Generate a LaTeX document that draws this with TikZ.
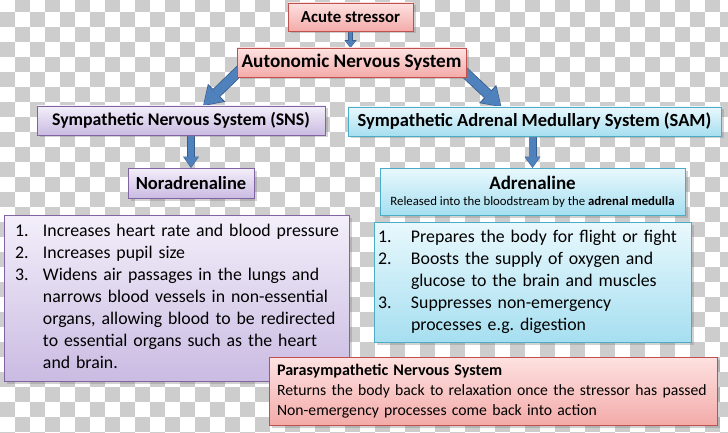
\documentclass[tikz,border=0pt]{standalone}
\usepackage{fontspec}
\setmainfont{Carlito}
\usetikzlibrary{arrows.meta, shadows}

\definecolor{checkgray}{RGB}{205,205,205}
\definecolor{arrowfill}{HTML}{4F81BD}
\definecolor{arrowedge}{HTML}{385D8A}
\definecolor{pinkedge}{HTML}{C0504D}
\definecolor{pinktop}{HTML}{FDE2E1}
\definecolor{pinkbottom}{HTML}{F3ABA9}
\definecolor{lilacedge}{HTML}{8064A2}
\definecolor{lilactop}{HTML}{F3EFFA}
\definecolor{lilacbottom}{HTML}{CABBE2}
\definecolor{cyanedge}{HTML}{4BACC6}
\definecolor{cyantop}{HTML}{E9F8FD}
\definecolor{cyanbottom}{HTML}{A6DFF0}

\pgfdeclarelayer{board}
\pgfdeclarelayer{links}
\pgfsetlayers{board,links,main}

\begin{document}
\begin{tikzpicture}[
            x = 1pt, y = -1pt, % one unit per pixel, y going down
            every node/.style = {outer sep = 0pt},
            title/.style = {font = \fontsize{#1}{20}\selectfont\bfseries},
            title/.default = 18,
            listtext/.style = {font = \fontsize{17.8}{22}\selectfont, align = left},
            % block arrows: outline drawn first, filled shaft on top
            bigarrow/.style = {draw = arrowfill, line width = 9pt,
                -{Triangle[length = 17pt, width = 22pt, line width = 0pt]}, shorten > = 1pt,
                preaction = {draw = arrowedge, line width = 10.6pt, shorten > = 0pt,
                -{Triangle[length = 19pt, width = 25pt, line width = 0pt]}}},
            midarrow/.style = {draw = arrowfill, line width = 6.6pt,
                -{Triangle[length = 10pt, width = 14pt, line width = 0pt]}, shorten > = 0.8pt,
                preaction = {draw = arrowedge, line width = 8pt, shorten > = 0pt,
                -{Triangle[length = 11.4pt, width = 16pt, line width = 0pt]}}},
            smallarrow/.style = {draw = arrowfill, line width = 3.6pt,
                -{Triangle[length = 6.5pt, width = 10pt, line width = 0pt]}, shorten > = 0.7pt,
                preaction = {draw = arrowedge, line width = 5pt, shorten > = 0pt,
                -{Triangle[length = 7.8pt, width = 12pt, line width = 0pt]}}}
        ]

        \tikzstyle{box}=[
            draw,
            line width = 0.8pt,
            inner sep = 0pt,
            drop shadow = {shadow xshift = 2.5pt, shadow yshift = -2.5pt, opacity = 0.35}
        ]
        \tikzstyle{pinkbox}=[box, draw = pinkedge, top color = pinktop, bottom color = pinkbottom]
        \tikzstyle{lilacbox}=[box, draw = lilacedge, top color = lilactop, bottom color = lilacbottom]
        \tikzstyle{cyanbox}=[box, draw = cyanedge, top color = cyantop, bottom color = cyanbottom]

        \useasboundingbox (0,0) rectangle (728,433);

        % transparent-background checkerboard
        \begin{pgfonlayer}{board}
            \clip (0,0) rectangle (728,433);
            \fill[white] (0,0) rectangle (728,433);
            \foreach \col in {0,...,48}
                \foreach \row in {0,...,29} {
                    \pgfmathtruncatemacro{\odd}{mod(\col+\row,2)}
                    \ifnum\odd=1
                        \fill[checkgray] (15*\col,15*\row-3) rectangle ++(15,15);
                    \fi
                }
        \end{pgfonlayer}

        \node[pinkbox, title = 16.8, minimum width = 125pt, minimum height = 28pt] (acute) at (350.5,17) {Acute stressor};
        \node[pinkbox, title = 19.2, minimum width = 229pt, minimum height = 29pt] (ans) at (351.5,62.5) {Autonomic Nervous System};
        \node[lilacbox, title = 17.8, minimum width = 288pt, minimum height = 29pt] (sns) at (181,120.5) {Sympathetic Nervous System (SNS)};
        \node[cyanbox, title = 18.5, minimum width = 373pt, minimum height = 29pt] (sam) at (534.5,121.5) {Sympathetic Adrenal Medullary System (SAM)};
        \node[lilacbox, title = 18.5, minimum width = 126pt, minimum height = 30pt] (noradr) at (191,183) {Noradrenaline};
        \node[cyanbox, minimum width = 305pt, minimum height = 47pt, align = center,
            font = \fontsize{12.8}{14}\selectfont] (adr) at (532.5,191.5)
            {{\fontsize{19}{20}\selectfont\bfseries Adrenaline}\\[2pt]
             Released into the bloodstream by the \textbf{adrenal medulla}};

        \node[lilacbox, listtext, text width = 323pt, inner xsep = 11pt, minimum height = 166pt,
            anchor = north west] (snslist) at (4,215) {%
            \begin{tabular}{@{}p{28pt}@{}l@{}}
                1. & Increases heart rate and blood pressure\\
                2. & Increases pupil size\\
                3. & Widens air passages in the lungs and\\
                   & narrows blood vessels in non-essential\\
                   & organs, allowing blood to be redirected\\
                   & to essential organs such as the heart\\
                   & and brain.
            \end{tabular}};
        \node[cyanbox, listtext, text width = 309pt, inner xsep = 4pt,
            minimum height = 120pt, anchor = north west] (samlist) at (374,222) {%
            \begin{tabular}{@{}p{33pt}@{}l@{}}
                1. & Prepares the body for flight or fight\\
                2. & Boosts the supply of oxygen and\\
                   & glucose to the brain and muscles\\
                3. & Suppresses non-emergency\\
                   & processes e.g.\ digestion
            \end{tabular}};
        \node[pinkbox, text width = 432pt, inner xsep = 8pt, minimum height = 68pt, align = left,
            font = \fontsize{15.7}{20}\selectfont, anchor = north west] (para) at (269,357)
            {{\fontsize{16.1}{20}\selectfont\bfseries Parasympathetic Nervous System}\\
             Returns the body back to relaxation once the stressor has passed\\
             Non-emergency processes come back into action};

        % connectors sit under the boxes
        \begin{pgfonlayer}{links}
            \draw[smallarrow] (acute.south) -- (acute.south |- ans.north);
            \draw[bigarrow] ([xshift = 15pt, yshift = 4pt]ans.west) -- ([xshift = 22pt]sns.north);
            \draw[bigarrow] ([xshift = -14pt, yshift = 2pt]ans.east) -- ([xshift = -33pt]sam.north);
            \draw[midarrow] (sns.south -| noradr.north) -- (noradr.north);
            \draw[midarrow] (sam.south -| adr.north) -- (adr.north);
        \end{pgfonlayer}

    \end{tikzpicture}
\end{document}
